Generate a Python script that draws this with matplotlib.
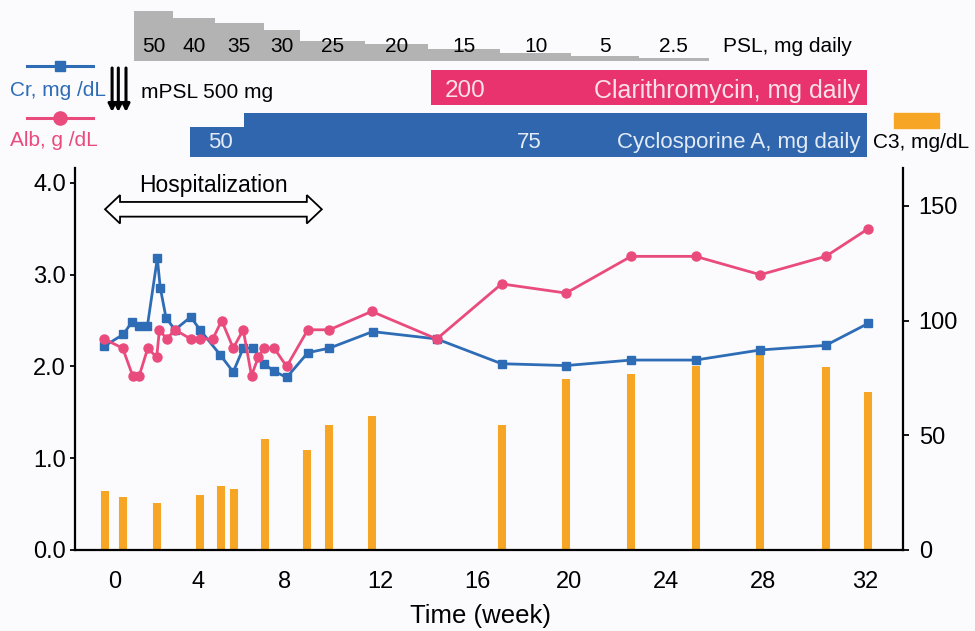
import numpy as np
import matplotlib.pyplot as plt
from matplotlib.patches import Polygon, Rectangle
from matplotlib.ticker import FormatStrFormatter

plt.rcParams['font.family'] = ['Liberation Sans', 'DejaVu Sans']

# ---- data ----
# serum creatinine, mg/dL
cr_week = [-0.53, 0.40, 0.83, 1.16, 1.56, 2.04, 2.18, 2.46, 2.89, 3.65,
           4.09, 5.01, 5.62, 6.08, 6.52, 7.03, 7.49, 8.07, 8.96, 9.87,
           11.69, 14.34, 17.07, 19.87, 22.56, 25.22, 27.89, 30.46, 32.13]
cr = [2.22, 2.35, 2.49, 2.44, 2.44, 3.18, 2.86, 2.53, 2.40, 2.54,
      2.40, 2.13, 1.94, 2.20, 2.20, 2.03, 1.95, 1.88, 2.15, 2.20,
      2.38, 2.30, 2.03, 2.01, 2.07, 2.07, 2.18, 2.23, 2.47]

# serum albumin, g/dL
alb_week = [-0.53, 0.37, 0.85, 1.17, 1.58, 2.01, 2.14, 2.49, 2.89, 3.65,
            4.09, 4.68, 5.09, 5.62, 6.08, 6.46, 6.77, 7.03, 7.50, 8.07,
            8.96, 9.87, 11.65, 14.34, 17.07, 19.87, 22.56, 25.22, 27.89, 30.46,
            32.12]
alb = [2.3, 2.2, 1.9, 1.9, 2.2, 2.1, 2.4, 2.3, 2.4, 2.3,
       2.3, 2.3, 2.5, 2.2, 2.4, 1.9, 2.1, 2.2, 2.2, 2.0,
       2.4, 2.4, 2.6, 2.3, 2.9, 2.8, 3.2, 3.2, 3.0, 3.2,
       3.5]

# complement C3, mg/dL
c3_week = [-0.48, 0.37, 2.01, 4.09, 5.06, 5.64, 7.06, 8.94, 9.87, 11.67,
           17.07, 19.87, 22.56, 25.22, 27.89, 30.46, 32.13]
c3 = [25.7, 23.2, 20.3, 23.9, 28.1, 26.8, 48.4, 43.5, 54.6, 58.4,
      54.6, 74.6, 76.8, 80.4, 85.5, 79.7, 68.8]

# treatments (weeks)
psl_edges = [0.90, 2.81, 4.76, 7.03, 8.64, 11.36, 13.97, 17.02, 20.07, 22.87, 25.77]
psl_dose = ['50', '40', '35', '30', '25', '20', '15', '10', '5', '2.5']
mpsl_weeks = [-0.14, 0.16, 0.53]
clar_span = [14.09, 32.08]
csa_edges = [3.62, 6.10, 32.08]
hosp_span = [-0.48, 9.55]

# x axis in the source is not evenly spaced: week -> position
axis_weeks = [-6, 0, 4, 8, 12, 16, 20, 24, 28, 32, 38]
axis_pos = [-9.5, 115, 198, 285, 380, 477, 569, 666, 763, 865, 1018]


def fwd(w):
    return np.interp(w, axis_weeks, axis_pos)


def inv(p):
    return np.interp(p, axis_pos, axis_weeks)


# ---- styles ----
blue = '#2e6db6'
pink = '#ea4b7d'
orange = '#f6a524'
gray = '#b3b3b3'
clar_col = '#e8336f'
csa_col = '#2f66ad'
psl_tops = [11, 18.3, 22.7, 30, 40.7, 44, 49.3, 52.7, 56, 58.3]

W, H = 975, 631


def fig_rect(l, t, r, b):
    return [l / W, 1 - b / H, (r - l) / W, (b - t) / H]


fig = plt.figure(figsize=(9.75, 6.31), dpi=100, facecolor='#fbfbfd')

ax = fig.add_axes(fig_rect(75, 168, 903, 550))
ax2 = ax.twinx()
ax.set_zorder(ax2.get_zorder() + 1)
ax.patch.set_visible(False)
axt = fig.add_axes(fig_rect(75, 0, 903, 165), sharex=ax)

ax.set_xscale('function', functions=(fwd, inv))
ax.set_xlim(inv(75), inv(903))

# C3 bars
ax2.vlines(c3_week, 0, c3, colors=orange, lw=5.8)

# Cr and Alb
ax.plot(cr_week, cr, '-s', color=blue, lw=2, ms=6, zorder=3)
ax.plot(alb_week, alb, '-o', color=pink, lw=2, ms=6.5, zorder=4)

# hospitalization double arrow
p0, p1 = fwd(hosp_span[0]), fwd(hosp_span[1])
xh0, xh1 = inv(p0 + 15), inv(p1 - 15)
yc, sh, hh = 3.713, 0.08, 0.155
x0, x1 = hosp_span
verts = [(x0, yc), (xh0, yc + hh), (xh0, yc + sh), (xh1, yc + sh), (xh1, yc + hh),
         (x1, yc), (xh1, yc - hh), (xh1, yc - sh), (xh0, yc - sh), (xh0, yc - hh)]
ax.add_patch(Polygon(verts, closed=True, fc='white', ec='black', lw=1.3, zorder=5))
ax.text(inv((p0 + p1) / 2), 3.97, 'Hospitalization', ha='center', va='center',
        fontsize=16.5)

# axes
ax.set_ylim(0, 4.163)
ax.set_yticks([0, 1, 2, 3, 4])
ax.yaxis.set_major_formatter(FormatStrFormatter('%.1f'))
ax2.set_ylim(0, 166.5)
ax2.set_yticks([0, 50, 100, 150])
ax.set_xticks(range(0, 33, 4))

for s in ['top', 'right']:
    ax.spines[s].set_visible(False)
for s in ['top', 'left', 'bottom']:
    ax2.spines[s].set_visible(False)
ax.spines['left'].set_linewidth(1.6)
ax.spines['bottom'].set_linewidth(1.6)
ax2.spines['right'].set_linewidth(1.6)

ax.tick_params(axis='x', length=0, pad=15, labelsize=17)
ax.tick_params(axis='y', direction='out', length=3.6, width=1.3, pad=3, labelsize=17)
ax2.tick_params(axis='y', direction='out', length=4.3, width=1.3, pad=7, labelsize=17)

ax.set_xlabel('Time (week)', fontsize=18.5)
ax.xaxis.set_label_coords((480 - 75) / 828, (550 - 604) / 382)

# ---- treatment strip ----
axt.set_ylim(165, 0)
axt.axis('off')

axt.fill_between(psl_edges, psl_tops + [psl_tops[-1]], 61, step='post', color=gray, lw=0)
for i, d in enumerate(psl_dose):
    xc = inv((fwd(psl_edges[i]) + fwd(psl_edges[i + 1])) / 2)
    axt.text(xc, 46, d, ha='center', va='center', fontsize=15)
axt.annotate('PSL, mg daily', xy=(psl_edges[-1], 46), xytext=(10, 0),
             textcoords='offset points', va='center', fontsize=15)

for w in mpsl_weeks:
    axt.annotate('', xy=(w, 112), xytext=(w, 68),
                 arrowprops=dict(arrowstyle='-|>', color='black', lw=2.2,
                                 mutation_scale=11, shrinkA=0, shrinkB=0))
axt.annotate('mPSL 500 mg', xy=(mpsl_weeks[-1], 93), xytext=(11, 0),
             textcoords='offset points', va='center', fontsize=15)

axt.fill_between(clar_span, 70, 105, color=clar_col, lw=0)
axt.annotate('200', xy=(clar_span[0], 91), xytext=(10, 0), textcoords='offset points',
             va='center', fontsize=17.5, color='#fbe1ea')
axt.annotate('Clarithromycin, mg daily', xy=(clar_span[1], 91), xytext=(-5, 0),
             textcoords='offset points', ha='right', va='center', fontsize=18,
             color='#fbe1ea')

axt.fill_between(csa_edges, [127, 113, 113], 157, step='post', color=csa_col, lw=0)
axt.annotate('50', xy=(csa_edges[0], 142.5), xytext=(13, 0), textcoords='offset points',
             va='center', fontsize=16, color='#e3ebf7')
axt.text(18.26, 142.5, '75', ha='center', va='center', fontsize=16, color='#e3ebf7')
axt.annotate('Cyclosporine A, mg daily', xy=(csa_edges[-1], 142.5), xytext=(-5, 0),
             textcoords='offset points', ha='right', va='center', fontsize=16,
             color='#e3ebf7')

# ---- legend keys (figure pixels) ----
axf = fig.add_axes([0, 0, 1, 1])
axf.set_xlim(0, W)
axf.set_ylim(H, 0)
axf.axis('off')
axf.plot([27, 93], [66, 66], color=blue, lw=2.2)
axf.plot([60], [66], 's', color=blue, ms=7.5)
axf.text(10, 90, 'Cr, mg /dL', color=blue, fontsize=15, va='center')
axf.plot([27, 93], [118, 118], color=pink, lw=2.2)
axf.plot([60], [118], 'o', color=pink, ms=9.5)
axf.text(10, 140, 'Alb, g /dL', color=pink, fontsize=15, va='center')
axf.add_patch(Rectangle((894, 113), 45, 15, color=orange))
axf.text(873, 143, 'C3, mg/dL', fontsize=15, va='center')

fig.savefig('out.png', dpi=100, facecolor=fig.get_facecolor())
